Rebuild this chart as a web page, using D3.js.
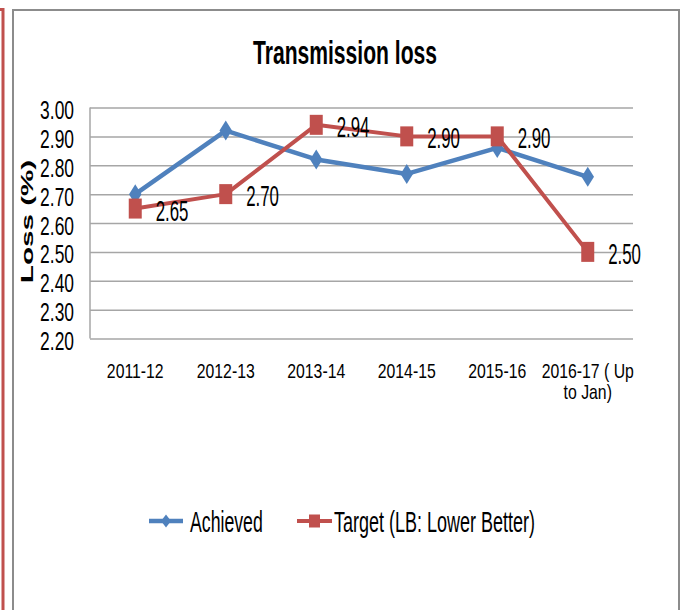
<!DOCTYPE html>
<html>
<head>
<meta charset="utf-8">
<script src="https://cdn.jsdelivr.net/npm/d3@7"></script>
<style>
  body { margin: 0; background: #fff; }
  svg { display: block; font-family: "Liberation Sans", Arial, sans-serif; }
</style>
</head>
<body>
<div id="chart"></div>
<script>
///// DATA /////
const categories = ["2011-12", "2012-13", "2013-14", "2014-15", "2015-16", "2016-17 ( Up|to Jan)"];
const achieved = [2.70, 2.92, 2.82, 2.77, 2.86, 2.76];
const target = [2.65, 2.70, 2.94, 2.90, 2.90, 2.50];
const yTicks = [2.20, 2.30, 2.40, 2.50, 2.60, 2.70, 2.80, 2.90, 3.00];
const seriesNames = ["Achieved", "Target (LB: Lower Better)"];

const blue = "#4F81BD";
const red = "#C0504D";

///// CHART /////
const width = 681, height = 610;
const plot = { left: 90, right: 633, top: 107.5, bottom: 338.5 };

const svg = d3.select("#chart").append("svg")
    .attr("width", width)
    .attr("height", height);

// squeezed text helper (the picture is stretched vertically)
function label(g, x, y, str, size, sx, anchor, weight) {
    return g.append("text")
        .attr("transform", `translate(${x},${y}) scale(${sx},1)`)
        .attr("font-size", size)
        .attr("font-weight", weight || "normal")
        .attr("text-anchor", anchor || "start")
        .attr("fill", "#000")
        .text(str);
}

// outer frames
svg.append("path")
    .attr("d", `M-5,9.5H3V${height}`)
    .attr("fill", "none")
    .attr("stroke", red)
    .attr("stroke-width", 3);
svg.append("path")
    .attr("d", `M13,${height}V10H679V${height}`)
    .attr("fill", "none")
    .attr("stroke", "#8c8c8c")
    .attr("stroke-width", 2);

const x = d3.scaleBand()
    .domain(categories)
    .range([plot.left, plot.right]);
const cx = d => x(d) + x.bandwidth() / 2;

const y = d3.scaleLinear()
    .domain([2.2, 3.0])
    .range([plot.bottom, plot.top]);

// gridlines
const grid = svg.append("g")
    .attr("transform", `translate(${plot.left},0)`)
    .call(d3.axisLeft(y).tickValues(yTicks).tickSize(-(plot.right - plot.left)).tickFormat(""));
grid.select(".domain").remove();
grid.selectAll(".tick line").attr("stroke", "#a6a6a6").attr("stroke-width", 1.5);
svg.append("line")
    .attr("x1", plot.left).attr("x2", plot.left)
    .attr("y1", plot.top).attr("y2", plot.bottom)
    .attr("stroke", "#a6a6a6").attr("stroke-width", 1.5);

// y tick labels
const yAxis = svg.append("g")
    .attr("transform", "translate(74,0)")
    .call(d3.axisLeft(y).tickValues(yTicks).tickSize(0).tickFormat(d3.format(".2f")));
yAxis.select(".domain").remove();
yAxis.selectAll(".tick text")
    .attr("x", 0).attr("dy", null)
    .attr("transform", "translate(0,11) scale(0.67,1)")
    .attr("font-size", 26)
    .attr("font-family", "Liberation Sans, Arial, sans-serif")
    .attr("text-anchor", "end")
    .attr("fill", "#000");

// y axis title
svg.append("text")
    .attr("transform", "translate(32.5,221.5) rotate(-90) scale(1.85,1)")
    .attr("font-size", 16)
    .attr("font-weight", "bold")
    .attr("text-anchor", "middle")
    .text("Loss (%)");

// x category labels (two-line label kept in one text element)
const xl = svg.append("g");
categories.forEach(c => {
    const t = label(xl, cx(c), 378, null, 20, 0.79, "middle");
    c.split("|").forEach((part, i) => {
        t.append("tspan").attr("x", 0).attr("dy", i ? 21 : 0).text(part);
    });
});

// title
label(svg, 345, 64, "Transmission loss", 33.5, 0.63, "middle", "bold");

// lines
const line = d3.line()
    .x((d, i) => cx(categories[i]))
    .y(d => y(d));

svg.append("path")
    .datum(achieved)
    .attr("d", line)
    .attr("fill", "none")
    .attr("stroke", blue)
    .attr("stroke-width", 4.5)
    .attr("stroke-linejoin", "round");

svg.append("path")
    .datum(target)
    .attr("d", line)
    .attr("fill", "none")
    .attr("stroke", red)
    .attr("stroke-width", 4)
    .attr("stroke-linejoin", "round");

function diamond(w, h) {
    return `M0,${-h / 2}L${w / 2},0L0,${h / 2}L${-w / 2},0Z`;
}

// markers
svg.append("g")
    .selectAll("path")
    .data(achieved)
    .join("path")
    .attr("transform", (d, i) => `translate(${cx(categories[i])},${y(d)})`)
    .attr("d", diamond(12.5, 20))
    .attr("fill", blue);

svg.append("g")
    .selectAll("rect")
    .data(target)
    .join("rect")
    .attr("x", (d, i) => cx(categories[i]) - 6.5)
    .attr("y", d => y(d) - 10)
    .attr("width", 13)
    .attr("height", 20)
    .attr("fill", red);

// data labels on target
const dl = svg.append("g");
target.forEach((v, i) => {
    label(dl, cx(categories[i]) + 20.5, y(v) + 12, v.toFixed(2), 29, 0.58, "start");
});

// legend
const lg = svg.append("g");
lg.append("line").attr("x1", 149).attr("x2", 183).attr("y1", 521).attr("y2", 521)
    .attr("stroke", blue).attr("stroke-width", 4.5);
lg.append("path").attr("transform", "translate(166,521)").attr("d", diamond(10, 13)).attr("fill", blue);
label(lg, 190, 532, seriesNames[0], 30, 0.59, "start");

lg.append("line").attr("x1", 297).attr("x2", 332).attr("y1", 521).attr("y2", 521)
    .attr("stroke", red).attr("stroke-width", 4);
lg.append("rect").attr("x", 309).attr("y", 514.5).attr("width", 11).attr("height", 13).attr("fill", red);
label(lg, 334, 532, seriesNames[1], 30, 0.6, "start");
</script>
</body>
</html>
